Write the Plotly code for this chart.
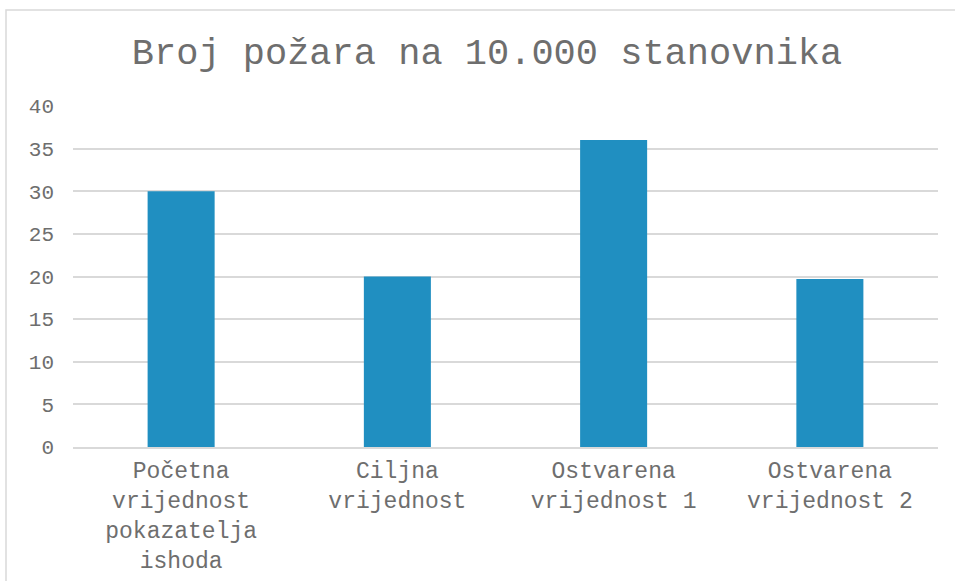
import plotly.graph_objects as go

categories = ["Početna<br>vrijednost<br>pokazatelja<br>ishoda", "Ciljna<br>vrijednost",
              "Ostvarena<br>vrijednost 1", "Ostvarena<br>vrijednost 2"]
values = [30, 20, 36, 19.7]
y_ticks = [0, 5, 10, 15, 20, 25, 30, 35, 40]

W, H = 955, 581
L, R, T, B = 73, 17, 106, 134
pw, ph = W - L - R, H - T - B

def px_x(p):
    return (p - L) / pw

def px_y(p):
    return (H - B - p) / ph

fig = go.Figure(go.Bar(x=categories, y=values, marker=dict(color="#208FC1", line=dict(width=0)),
                       width=0.31))

font = "Liberation Mono, Courier New, monospace"
txt = "#6e6e6e"
fig.update_layout(
    width=W, height=H,
    margin=dict(l=L, r=R, t=T, b=B, autoexpand=False),
    paper_bgcolor="white", plot_bgcolor="white",
    showlegend=False,
    title=dict(text="Broj požara na 10.000 stanovnika", x=487 / W, xanchor="center",
               y=1 - 51 / H, yanchor="middle", yref="container",
               font=dict(family=font, size=37, color=txt)),
    font=dict(family=font, color=txt),
    xaxis=dict(showgrid=False, showline=True, linecolor="#d9d9d9", linewidth=1.5, automargin=False,
               tickfont=dict(size=23, color=txt), ticks="", ticklabelstandoff=2),
    yaxis=dict(range=[0, 40], tickvals=y_ticks, showgrid=True, gridcolor="#d9d9d9", gridwidth=1.5,
               zeroline=False, showline=False, ticks="", automargin=False,
               tickfont=dict(size=21, color=txt), ticklabelstandoff=18),
    shapes=[dict(type="rect", xref="paper", yref="paper",
                 x0=px_x(6), x1=px_x(965), y0=px_y(600), y1=px_y(10),
                 line=dict(color="#d9d9d9", width=1.5), fillcolor="rgba(0,0,0,0)", layer="below")],
)

fig.write_html("out.html", config={"displayModeBar": False},
               post_script="document.body.style.margin='0';")
